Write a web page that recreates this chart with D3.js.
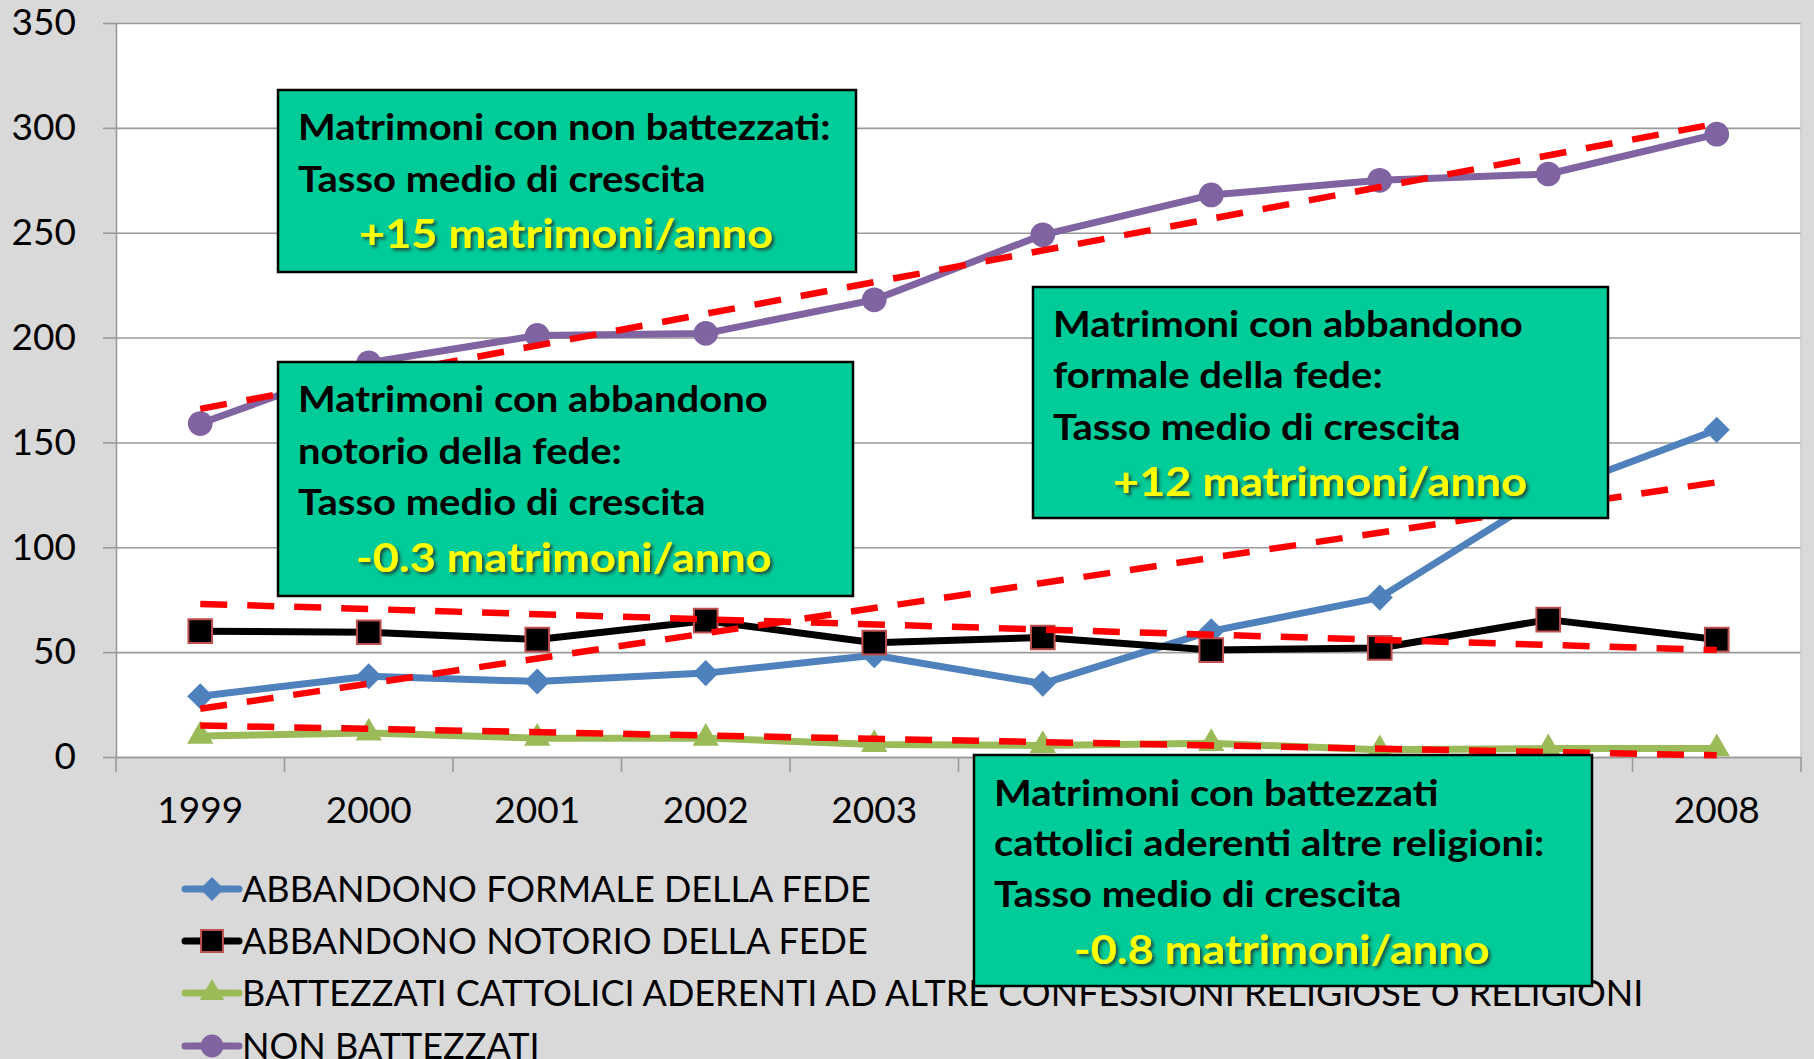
<!DOCTYPE html>
<html>
<head>
<meta charset="utf-8">
<script src="https://cdn.jsdelivr.net/npm/d3@7"></script>
<style>
  body { margin: 0; background: #d9d9d9; }
  svg { display: block; }
</style>
</head>
<body>
<div id="chart"></div>
<script>
// data
var years = ['1999','2000','2001','2002','2003','2004','2005','2006','2007','2008'];
var formale = [29, 38.5, 36, 40, 48.5, 35, 60, 76, 126, 156];
var notorio = [60, 59.5, 56, 65, 54.5, 57, 51, 52, 65.5, 56];
var altreReligioni = [10, 11.5, 9, 9, 6, 5.5, 6.5, 3.5, 4, 4];
var nonBattezzati = [159, 188, 201, 202, 218, 249, 268, 275, 278, 297];

// trend lines: value at 1999 and at 2008
var trendFormale = [23, 131];
var trendNotorio = [73, 51];
var trendAltre = [15, 0.8];
var trendNon = [166, 302];

var yTicks = [0, 50, 100, 150, 200, 250, 300, 350];

var seriesNames = [
  'ABBANDONO FORMALE DELLA FEDE',
  'ABBANDONO NOTORIO DELLA FEDE',
  'BATTEZZATI CATTOLICI ADERENTI AD ALTRE CONFESSIONI RELIGIOSE O RELIGIONI',
  'NON BATTEZZATI'
];

var boxNonBatt = ['Matrimoni con non battezzati:', 'Tasso medio di crescita', '+15 matrimoni/anno'];
var boxNotorio = ['Matrimoni con abbandono', 'notorio della fede:', 'Tasso medio di crescita', '-0.3 matrimoni/anno'];
var boxFormale = ['Matrimoni con abbandono', 'formale della fede:', 'Tasso medio di crescita', '+12 matrimoni/anno'];
var boxAltre = ['Matrimoni con battezzati', 'cattolici aderenti altre religioni:', 'Tasso medio di crescita', '-0.8 matrimoni/anno'];

(function() {
  var W = 1814, H = 1059;
  var left = 116, right = 1801, plotTop = 23, bottom = 757;
  var gridColor = '#9a9a9a';

  var svg = d3.select('#chart').append('svg')
    .attr('width', W).attr('height', H)
    .style('font-family', 'Lato, sans-serif');

  svg.append('rect').attr('width', W).attr('height', H).attr('fill', '#d9d9d9');

  // shadow for the yellow text
  svg.append('defs').append('filter').attr('id', 'shadow')
    .attr('x', '-10%').attr('y', '-30%').attr('width', '130%').attr('height', '160%')
    .append('feDropShadow')
    .attr('dx', 2.5).attr('dy', 2.5).attr('stdDeviation', 1.5)
    .attr('flood-color', '#2a2a2a').attr('flood-opacity', 0.75);

  var x = d3.scaleBand().domain(years).range([left, right]).padding(0);
  var y = d3.scaleLinear().domain([0, 350]).range([bottom, plotTop]);
  var cx = function(i) { return x(years[i]) + x.bandwidth() / 2; };

  // stretch text a bit wider, the original font is wider than Lato
  function stretch(sel, k) {
    sel.each(function() {
      var w = this.getComputedTextLength();
      d3.select(this).attr('textLength', w * k).attr('lengthAdjust', 'spacingAndGlyphs');
    });
  }

  // plot area
  svg.append('rect')
    .attr('x', left).attr('y', plotTop)
    .attr('width', right - left).attr('height', bottom - plotTop)
    .attr('fill', '#fff');

  // gridlines
  svg.append('g')
    .attr('transform', 'translate(' + left + ',0)')
    .call(d3.axisLeft(y).tickValues(yTicks).tickSize(-(right - left)).tickFormat(''))
    .call(function(g) {
      g.select('.domain').remove();
      g.selectAll('line').attr('stroke', gridColor).attr('stroke-width', 1.6);
    });

  // y axis with labels
  svg.append('g')
    .attr('transform', 'translate(' + left + ',0)')
    .call(d3.axisLeft(y).tickValues(yTicks).tickSizeInner(13).tickSizeOuter(0).tickPadding(27))
    .call(function(g) {
      g.select('.domain').attr('stroke', gridColor).attr('stroke-width', 1.6);
      g.selectAll('line').attr('stroke', gridColor).attr('stroke-width', 1.6);
      g.selectAll('text').attr('font-size', 37).attr('fill', '#000').attr('font-family', 'Lato, sans-serif');
    });

  // x axis: labels at band centres, ticks at band edges
  svg.append('g')
    .attr('transform', 'translate(0,' + bottom + ')')
    .call(d3.axisBottom(x).tickSize(0).tickPadding(40))
    .call(function(g) {
      g.select('.domain').attr('stroke', gridColor).attr('stroke-width', 1.6);
      g.selectAll('text').attr('font-size', 37).attr('fill', '#000').attr('font-family', 'Lato, sans-serif');
    });

  var edges = years.map(function(d) { return x(d); }).concat([right]);
  svg.append('g').selectAll('line')
    .data(edges).enter()
    .append('line')
    .attr('x1', function(d) { return d; }).attr('x2', function(d) { return d; })
    .attr('y1', bottom).attr('y2', bottom + 15)
    .attr('stroke', gridColor).attr('stroke-width', 1.6);

  // right edge of the plot
  svg.append('line')
    .attr('x1', right).attr('x2', right).attr('y1', plotTop).attr('y2', bottom)
    .attr('stroke', '#c8c8c8').attr('stroke-width', 1.5);

  var series = [
    { name: seriesNames[0], values: formale, trend: trendFormale, color: '#4f81bd',
      symbol: d3.symbolSquare, size: 340, rotate: 45, stroke: 'none' },
    { name: seriesNames[1], values: notorio, trend: trendNotorio, color: '#000',
      symbol: d3.symbolSquare, size: 560, rotate: 0, stroke: '#c0504d' },
    { name: seriesNames[2], values: altreReligioni, trend: trendAltre, color: '#9bbb59',
      symbol: d3.symbolTriangle, size: 300, rotate: 0, stroke: 'none' },
    { name: seriesNames[3], values: nonBattezzati, trend: trendNon, color: '#8064a2',
      symbol: d3.symbolCircle, size: 480, rotate: 0, stroke: 'none' }
  ];

  var line = d3.line()
    .x(function(d, i) { return cx(i); })
    .y(function(d) { return y(d); });

  series.forEach(function(s) {
    var g = svg.append('g');
    g.append('path')
      .attr('d', line(s.values))
      .attr('fill', 'none')
      .attr('stroke', s.color)
      .attr('stroke-width', 7)
      .attr('stroke-linejoin', 'round');

    g.selectAll('path.marker')
      .data(s.values).enter()
      .append('path').classed('marker', true)
      .attr('d', d3.symbol().type(s.symbol).size(s.size))
      .attr('transform', function(d, i) {
        return 'translate(' + cx(i) + ',' + y(d) + ') rotate(' + s.rotate + ')';
      })
      .attr('fill', s.color)
      .attr('stroke', s.stroke)
      .attr('stroke-width', 2);
  });

  // trend lines on top of the series
  series.forEach(function(s) {
    svg.append('line')
      .attr('x1', cx(0)).attr('y1', y(s.trend[0]))
      .attr('x2', cx(years.length - 1)).attr('y2', y(s.trend[1]))
      .attr('stroke', '#ff0000')
      .attr('stroke-width', 6.5)
      .attr('stroke-dasharray', '27,20');
  });

  // legend
  var legendY = [889, 941, 993, 1046];
  series.forEach(function(s, i) {
    var row = svg.append('g').attr('transform', 'translate(0,' + legendY[i] + ')');
    row.append('line')
      .attr('x1', 185).attr('x2', 239).attr('y1', 0).attr('y2', 0)
      .attr('stroke', s.color).attr('stroke-width', 7).attr('stroke-linecap', 'round');
    row.append('path')
      .attr('d', d3.symbol().type(s.symbol).size(s.size * 0.85))
      .attr('transform', 'translate(212,0) rotate(' + s.rotate + ')')
      .attr('fill', s.color).attr('stroke', s.stroke).attr('stroke-width', 2);
    row.append('text')
      .attr('x', 242).attr('y', 0).attr('dy', '0.36em')
      .attr('font-size', 36)
      .attr('fill', '#000')
      .text(s.name);
  });

  // annotation boxes
  var boxes = [
    { lines: boxNonBatt, x: 278, y: 90, w: 578, h: 182, rows: [127, 179, 233], yellowX: 359 },
    { lines: boxNotorio, x: 278, y: 362, w: 575, h: 234, rows: [399, 451, 502, 557], yellowX: 356 },
    { lines: boxFormale, x: 1033, y: 287, w: 575, h: 231, rows: [324, 375, 427, 481], yellowX: 1113 },
    { lines: boxAltre, x: 974, y: 755, w: 618, h: 231, rows: [793, 843, 894, 949], yellowX: 1074 }
  ];

  boxes.forEach(function(b) {
    var g = svg.append('g');
    g.append('rect')
      .attr('x', b.x).attr('y', b.y).attr('width', b.w).attr('height', b.h)
      .attr('fill', '#00cc99')
      .attr('stroke', '#000').attr('stroke-width', 2.5);
    b.lines.forEach(function(t, i) {
      var last = i === b.lines.length - 1;
      g.append('text')
        .attr('x', last ? b.yellowX : b.x + 20)
        .attr('y', b.rows[i]).attr('dy', '0.36em')
        .attr('font-size', last ? 41 : 37)
        .attr('font-weight', 700)
        .attr('fill', last ? '#ffff00' : '#000')
        .attr('filter', last ? 'url(#shadow)' : null)
        .text(t)
        .call(stretch, last ? 1.1 : 1.08);
    });
  });
})();
</script>
</body>
</html>
